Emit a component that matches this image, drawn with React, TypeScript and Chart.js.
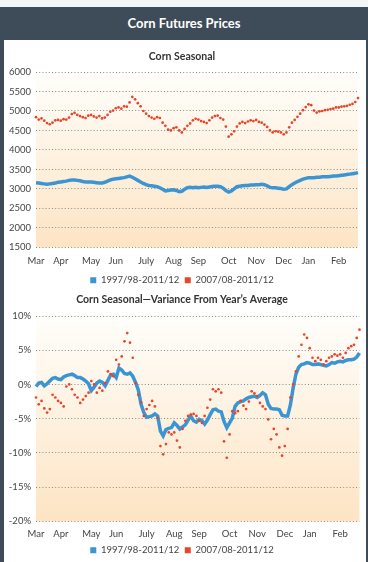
import React, { useEffect, useRef } from 'react';
import { Chart, registerables } from 'chart.js';

Chart.register(...registerables);

// ---- Data ----
const MONTHS = ['Mar', 'Apr', 'May', 'Jun', 'July', 'Aug', 'Sep', 'Oct', 'Nov', 'Dec', 'Jan', 'Feb'];
const MONTH_START = [0, 9, 20, 29, 40, 50, 59, 70, 80, 90, 99, 110];

const SERIES_LONG = '1997/98-2011/12';
const SERIES_SHORT = '2007/08-2011/12';

const PRICE_TICKS = { min: 1500, max: 6000, step: 500 };
const VAR_TICKS = { min: -20, max: 10, step: 5 };

// Corn Seasonal (price), long average
const priceLong = [
  3160, 3150, 3140, 3130, 3120, 3130, 3140, 3150, 3170, 3180,
  3190, 3200, 3220, 3230, 3230, 3220, 3210, 3190, 3180, 3180,
  3180, 3170, 3160, 3150, 3150, 3170, 3200, 3230, 3250, 3260,
  3270, 3280, 3290, 3310, 3330, 3300, 3260, 3220, 3180, 3140,
  3110, 3090, 3080, 3070, 3060, 3030, 2990, 2950, 2960, 2970,
  2980, 2960, 2930, 2940, 2990, 3030, 3040, 3030, 3040, 3030,
  3040, 3050, 3040, 3050, 3060, 3070, 3070, 3060, 3020, 2960,
  2920, 2950, 3000, 3060, 3070, 3080, 3090, 3090, 3100, 3100,
  3110, 3110, 3120, 3110, 3080, 3040, 3030, 3030, 3020, 3010,
  2990, 3000, 3060, 3110, 3150, 3190, 3220, 3250, 3270, 3290,
  3290, 3290, 3300, 3300, 3310, 3310, 3310, 3320, 3330, 3330,
  3340, 3350, 3360, 3370, 3380, 3390, 3400, 3420,
];

// Corn Seasonal (price), recent average
const priceShort = [
  4840, 4780, 4810, 4750, 4690, 4660, 4700, 4760, 4770, 4750,
  4790, 4780, 4830, 4920, 4950, 4900, 4870, 4840, 4820, 4880,
  4900, 4860, 4830, 4870, 4810, 4830, 4900, 4980, 5010, 5070,
  5090, 5060, 5120, 5110, 5220, 5360, 5300, 5200, 5120, 5000,
  4930, 4870, 4830, 4800, 4840, 4820, 4700, 4620, 4520, 4500,
  4560, 4580, 4500, 4450, 4540, 4620, 4680, 4760, 4800, 4780,
  4740, 4720, 4690, 4760, 4830, 4870, 4880, 4820, 4780, 4600,
  4340, 4400, 4480, 4600, 4680, 4720, 4690, 4730, 4760, 4740,
  4770, 4720, 4700, 4650, 4590, 4500, 4450, 4480, 4470, 4450,
  4400, 4450, 4580, 4700, 4770, 4850, 4930, 5020, 5100, 5170,
  5150, 5010, 4960, 4990, 5000, 5020, 5030, 5050, 5060, 5090,
  5090, 5110, 5120, 5130, 5160, 5180, 5230, 5330,
];

// Variance from year's average (%), long average
const varLong = [
  -0.3, 0.2, 0.3, -0.2, 0.1, 0.5, 0.9, 1.0, 0.8, 0.7,
  1.1, 1.3, 1.4, 1.5, 1.3, 1.0, 1.0, 0.8, 0.5, 0.1,
  -0.9, -0.4, 0.2, 0.5, 0.3, -0.2, 0.6, 1.4, 1.5, 1.0,
  2.4, 2.1, 1.6, 1.5, 1.7, 1.2, 0.3, -0.8, -2.9, -4.1,
  -4.8, -4.7, -4.6, -4.3, -4.6, -6.8, -7.5, -6.6, -6.4, -6.3,
  -5.6, -6.0, -6.5, -6.2, -5.9, -5.2, -4.6, -5.3, -5.5, -5.1,
  -5.3, -5.8, -5.2, -4.4, -3.7, -3.6, -3.9, -4.0, -5.4, -6.3,
  -5.6, -4.9, -3.2, -2.7, -2.5, -2.4, -2.1, -1.9, -1.8, -1.7,
  -1.9, -1.6, -1.2, -1.5, -2.9, -3.5, -3.6, -3.6, -3.7, -4.5,
  -4.6, -4.6, -3.0, -0.5, 1.5, 2.5, 2.9, 3.0, 3.2, 3.1,
  2.9, 2.9, 3.0, 2.9, 2.8, 2.7, 2.9, 3.2, 3.1, 3.3,
  3.4, 3.3, 3.5, 3.6, 3.6, 3.7, 4.0, 4.6,
];

// Variance from year's average (%), recent average
const varShort = [
  -1.9, -2.9, -2.4, -3.5, -4.1, -3.6, -1.5, -1.9, -2.4, -2.7,
  -3.2, -0.3, 0.0, -0.7, -1.5, -1.9, -2.7, -2.2, -1.7, -1.2,
  0.5, 0.0, -1.2, -0.5, -0.9, 0.2, 1.9, 1.5, 1.2, 3.6,
  2.9, 4.1, 6.3, 7.5, 6.1, 3.9, 0.2, -1.5, -2.6, -4.6,
  -3.6, -3.0, -2.4, -3.2, -4.9, -9.0, -10.2, -8.7, -7.0, -7.3,
  -7.0, -8.2, -9.2, -6.5, -5.3, -4.6, -4.4, -4.3, -4.6, -5.3,
  -5.6, -4.6, -3.4, -2.2, -0.7, -1.0, -0.7, -1.2, -8.3, -10.7,
  -7.3, -3.9, -4.2, -3.9, -2.4, -3.1, -3.6, -2.5, -1.0, -1.3,
  -1.7, -2.7, -3.2, -3.6, -5.1, -8.0, -6.5, -7.3, -9.2, -10.4,
  -9.0, -6.5, -1.9, 0.0, 1.9, 4.1, 5.8, 7.3, 6.8, 5.3,
  3.9, 3.4, 3.9, 3.6, 2.9, 3.4, 3.9, 4.1, 4.4, 4.2,
  4.4, 3.9, 4.6, 5.3, 5.6, 5.8, 6.8, 8.0,
];

const dayLabels = priceLong.map((_, i) => {
  const k = MONTH_START.indexOf(i);
  return k >= 0 ? MONTHS[k] : '';
});

// ---- Styles ----
const BLUE = '#3a95d2';
const RED = '#e8432b';
const FONT = 'Lato, "Open Sans", sans-serif';

const bgPlugin = {
  id: 'bgGrad',
  beforeDraw(chart: any) {
    const { ctx, chartArea: a } = chart;
    if (!a) return;
    const g = ctx.createLinearGradient(0, a.top, 0, a.bottom);
    g.addColorStop(0, '#fffefb');
    g.addColorStop(1, '#fde4c4');
    ctx.save();
    ctx.fillStyle = g;
    ctx.fillRect(a.left, a.top, a.right - a.left, a.bottom - a.top);
    ctx.restore();
  },
};

function makeConfig(
  title: string,
  long: number[],
  short: number[],
  ticks: { min: number; max: number; step: number },
  fmt: (v: number) => string,
  titlePad: { top: number; bottom: number },
  xAxisHeight: number,
  xPad: number
): any {
  return {
    type: 'line',
    data: {
      labels: dayLabels,
      datasets: [
        {
          label: SERIES_LONG,
          data: long,
          borderColor: BLUE,
          backgroundColor: BLUE,
          borderWidth: 3.5,
          pointRadius: 0,
          tension: 0,
          order: 2,
        },
        {
          label: SERIES_SHORT,
          data: short,
          borderColor: RED,
          backgroundColor: RED,
          showLine: false,
          pointRadius: 1.35,
          pointBorderWidth: 0,
          order: 1,
        },
      ],
    },
    options: {
      animation: false,
      responsive: false,
      maintainAspectRatio: false,
      layout: { padding: { left: 0, right: 6, top: 0, bottom: 0 } },
      plugins: {
        tooltip: { enabled: false },
        title: {
          display: true,
          text: title,
          color: '#333',
          font: { family: FONT, size: 10.5, weight: 'bold' },
          padding: titlePad,
        },
        legend: {
          position: 'bottom',
          labels: {
            color: '#444',
            font: { family: FONT, size: 9.5 },
            boxWidth: 6,
            boxHeight: 6,
            padding: 5.5,
            generateLabels: (chart: any) =>
              chart.data.datasets.map((d: any, i: number) => ({
                text: d.label,
                fillStyle: d.backgroundColor,
                strokeStyle: d.backgroundColor,
                lineWidth: 0,
                hidden: false,
                datasetIndex: i,
                fontColor: '#444',
              })),
          },
        },
      },
      scales: {
        x: {
          type: 'category',
          afterFit: (s: any) => {
            s.height = xAxisHeight;
          },
          grid: { display: false, drawTicks: false },
          border: { display: false },
          ticks: {
            autoSkip: false,
            maxRotation: 0,
            minRotation: 0,
            padding: xPad,
            color: '#444',
            font: { family: FONT, size: 9.5 },
            callback: (_v: any, i: number) => dayLabels[i],
          },
        },
        y: {
          min: ticks.min,
          max: ticks.max,
          afterFit: (s: any) => {
            s.width = 32;
          },
          grid: { color: '#8a8a8a', lineWidth: 1, drawTicks: false },
          border: { display: false, dash: [1, 2.2] },
          ticks: {
            stepSize: ticks.step,
            padding: 5,
            color: '#444',
            font: { family: FONT, size: 9.5 },
            callback: (v: any) => fmt(Number(v)),
          },
        },
      },
    },
    plugins: [bgPlugin],
  };
}

function ChartBox(props: { config: any; left: number; top: number; width: number; height: number }) {
  const ref = useRef<HTMLCanvasElement | null>(null);
  useEffect(() => {
    if (!ref.current) return;
    const c = new Chart(ref.current, props.config);
    return () => c.destroy();
  }, []);
  return (
    <div
      style={{
        position: 'absolute',
        left: props.left,
        top: props.top,
        width: props.width,
        height: props.height,
      }}
    >
      <canvas ref={ref} width={props.width} height={props.height} style={{ width: props.width, height: props.height }} />
    </div>
  );
}

export default function App() {
  const cfg1 = makeConfig(
    'Corn Seasonal',
    priceLong,
    priceShort,
    PRICE_TICKS,
    (v) => String(v),
    { top: 10.7, bottom: 8.7 },
    22.6,
    8
  );
  const cfg2 = makeConfig(
    'Corn Seasonal\u2014Variance From Year\u2019s Average',
    varLong,
    varShort,
    VAR_TICKS,
    (v) => v + '%',
    { top: 4.7, bottom: 9.7 },
    18.6,
    6.5
  );
  return (
    <div
      style={{
        position: 'fixed',
        left: 0,
        top: 0,
        width: 368,
        height: 562,
        background: '#f4f5f6',
        overflow: 'hidden',
        fontFamily: FONT,
      }}
    >
      <div
        style={{
          position: 'absolute',
          left: 0,
          top: 7,
          width: 368,
          height: 555,
          background: '#3e4c59',
        }}
      />
      <div
        style={{
          position: 'absolute',
          left: 0,
          top: 7,
          width: 368,
          height: 33,
          color: '#ffffff',
          fontWeight: 700,
          fontSize: 13,
          lineHeight: '33px',
          textAlign: 'center',
        }}
      >
        Corn Futures Prices
      </div>
      <div
        style={{
          position: 'absolute',
          left: 4,
          top: 40,
          width: 362,
          height: 522,
          background: '#ffffff',
        }}
      />
      <ChartBox config={cfg1} left={4} top={40} width={362} height={255} />
      <ChartBox config={cfg2} left={4} top={289} width={362} height={276} />
    </div>
  );
}
